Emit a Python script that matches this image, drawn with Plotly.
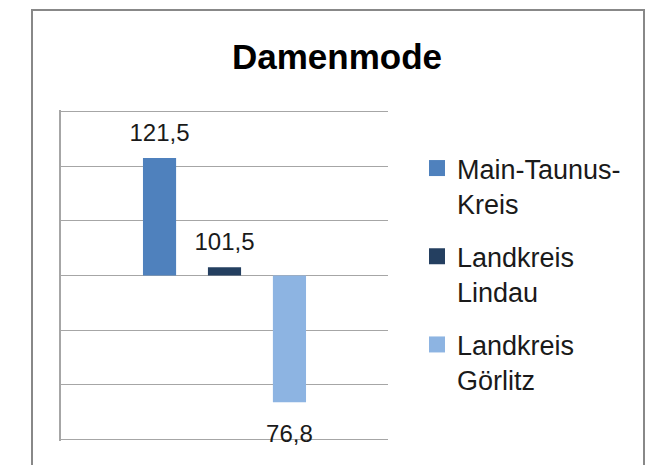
import plotly.graph_objects as go

title = "Damenmode"
category = ["Damenmode"]
series_names = ["Main-Taunus-<br>Kreis", "Landkreis<br>Lindau", "Landkreis<br>Görlitz"]
series_values = [121.5, 101.5, 76.8]
value_labels = ["121,5", "101,5", "76,8"]
baseline = 100
colors = ["#4F81BD", "#243F60", "#8DB4E2"]

W, H = 656, 465
L, R, T, B = 61, 268, 110, 24
pw, ph = W - L - R, H - T - B

FONT = "Liberation Sans, Arial, sans-serif"

fig = go.Figure()
for i, (name, v, c) in enumerate(zip(series_names, series_values, colors)):
    fig.add_trace(go.Bar(
        x=category, y=[v - baseline], base=baseline, name=name,
        marker=dict(color=c, line=dict(width=0)), offsetgroup=str(i),
        showlegend=False, legendgroup=name, hoverinfo="skip",
    ))

# value labels, positioned in the same group slots as the bars
for i, (name, v, lab) in enumerate(zip(series_names, series_values, value_labels)):
    above = v >= baseline
    fig.add_trace(go.Scatter(
        x=category, y=[v], mode="markers+text", text=[lab],
        textposition="top center" if above else "bottom center",
        textfont=dict(family=FONT, size=24, color="#1a1a1a"),
        marker=dict(size=16 if above else 34, color="rgba(0,0,0,0)"),
        offsetgroup=str(i), cliponaxis=False, showlegend=False, hoverinfo="skip",
    ))

# legend entries
for i, (name, c) in enumerate(zip(series_names, colors)):
    fig.add_trace(go.Scatter(
        x=[None], y=[None], mode="markers", name=name, legendgroup=name,
        offsetgroup=str(i),
        marker=dict(symbol="square", size=16, color=c),
    ))

def px_x(p):
    return (p - L) / pw

def px_y(p):
    return (H - B - p) / ph

fig.add_shape(type="rect", xref="paper", yref="paper",
              x0=px_x(32), x1=px_x(644), y0=px_y(480), y1=px_y(10),
              line=dict(color="#888888", width=2), fillcolor="rgba(0,0,0,0)", layer="below")

fig.update_layout(
    width=W, height=H,
    margin=dict(l=L, r=R, t=T, b=B, pad=0),
    paper_bgcolor="white", plot_bgcolor="white",
    barmode="group", bargap=0.404, bargroupgap=0.49,
    scattermode="group", scattergap=0.404,
    title=dict(text="<b>" + title + "</b>", x=337 / W, xanchor="center",
               y=1 - 57 / H, yanchor="middle",
               font=dict(family=FONT, size=35, color="#000000")),
    showlegend=True,
    legend=dict(x=px_x(417), xanchor="left", y=px_y(144), yanchor="top",
                valign="top", bgcolor="rgba(0,0,0,0)", tracegroupgap=15,
                font=dict(family=FONT, size=27, color="#1a1a1a"),
                itemclick=False, itemdoubleclick=False),
    xaxis=dict(showticklabels=False, ticks="", showgrid=False, zeroline=False,
               showline=False, range=[-0.5, 0.5], fixedrange=True),
    yaxis=dict(range=[69.7, 130.3], dtick=10, tick0=70, showticklabels=False, ticks="",
               showgrid=True, gridcolor="#a6a6a6", gridwidth=1.2, zeroline=False,
               showline=True, linecolor="#a6a6a6", linewidth=1.5, fixedrange=True),
)

fig.write_html("out.html", post_script="document.body.style.margin='0';",
               config={"displayModeBar": False})
